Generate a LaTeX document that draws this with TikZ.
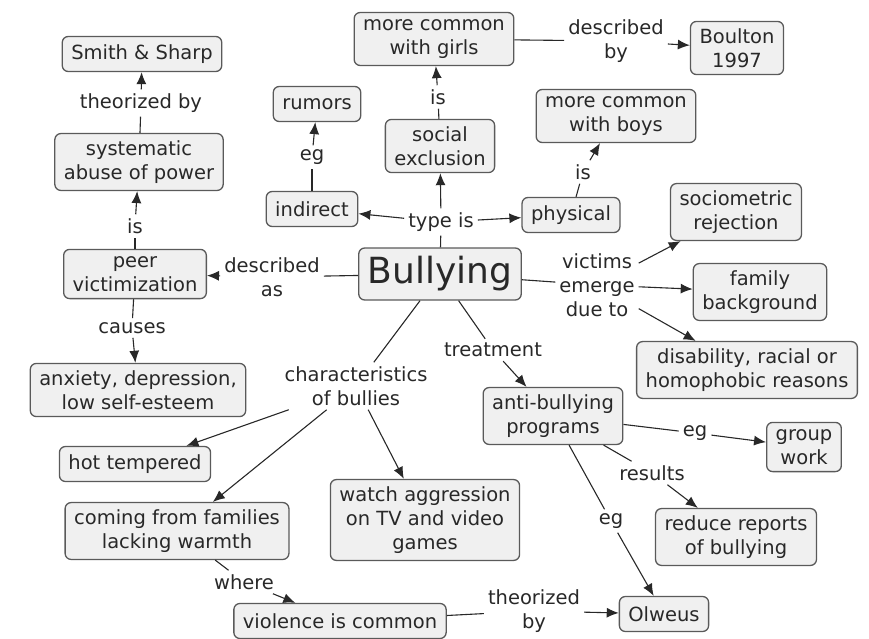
\documentclass[tikz,border=0pt]{standalone}
\usepackage{fontspec}
\setmainfont{DejaVu Sans}
\usetikzlibrary{arrows.meta}
\definecolor{boxfill}{RGB}{240,240,240}
\definecolor{boxline}{RGB}{90,90,90}
\definecolor{ink}{RGB}{40,40,40}
\tikzset{
concept/.style={draw=boxline,fill=boxfill,rounded corners=6pt,line width=1.3pt,align=center,inner xsep=9pt,inner ysep=7pt,minimum height=35pt,text=ink},
linkl/.style={align=center,inner sep=4pt,text=ink},
conn/.style={draw=ink,line width=1.1pt},
arr/.style={conn,-{Latex[length=12pt,width=10pt]}}
}
\begin{document}
\begin{tikzpicture}[x=1pt,y=-1pt,font=\fontsize{19.5}{24}\selectfont]
\useasboundingbox (0,0) rectangle (869,639);
% concepts
\node[concept] (sharp) at (142,54) {Smith \& Sharp};
\node[concept] (abuse) at (139,162) {systematic\\abuse of power};
\node[concept] (rumors) at (317,104) {rumors};
\node[concept] (indirect) at (312,209) {indirect};
\node[concept] (girls) at (434,39) {more common\\with girls};
\node[concept] (social) at (440,146) {social\\exclusion};
\node[concept] (boulton) at (737,48) {Boulton\\1997};
\node[concept] (boys) at (616,116) {more common\\with boys};
\node[concept] (physical) at (571,215) {physical};
\node[concept] (socio) at (736,212) {sociometric\\rejection};
\node[concept,font=\fontsize{36}{40}\selectfont,minimum height=52pt] (bully) at (440,274) {Bullying};
\node[concept] (peer) at (135,274) {peer\\victimization};
\node[concept] (family) at (760,292) {family\\background};
\node[concept] (anxiety) at (138,390) {anxiety, depression,\\low self-esteem};
\node[concept] (disab) at (747,370) {disability, racial or\\homophobic reasons};
\node[concept] (anti) at (553,416) {anti-bullying\\programs};
\node[concept] (group) at (804,447) {group\\work};
\node[concept] (hot) at (135,464) {hot tempered};
\node[concept] (watch) at (425,520) {watch aggression\\on TV and video\\games};
\node[concept] (coming) at (177,531) {coming from families\\lacking warmth};
\node[concept] (reduce) at (736,537) {reduce reports\\of bullying};
\node[concept] (violence) at (340,621) {violence is common};
\node[concept] (olweus) at (664,614) {Olweus};
% link labels
\node[linkl] (lthe) at (141,103) {theorized by};
\node[linkl] (lisa) at (135,226) {is};
\node[linkl] (legr) at (312,157) {eg};
\node[linkl] (liss) at (438,97) {is};
\node[linkl] (ldby) at (616,41) {described\\by};
\node[linkl] (lisp) at (583,172) {is};
\node[linkl] (ltype) at (441,222) {type is};
\node[linkl] (ldas) at (272,277) {described\\as};
\node[linkl] (lvict) at (597,285) {victims\\emerge\\due to};
\node[linkl] (lcaus) at (132,328) {causes};
\node[linkl] (ltreat) at (493,350) {treatment};
\node[linkl] (lchar) at (356,386) {characteristics\\of bullies};
\node[linkl] (legg) at (695,433) {eg};
\node[linkl] (lres) at (652,473) {results};
\node[linkl] (lego) at (611,521) {eg};
\node[linkl] (lwhere) at (244,582) {where};
\node[linkl] (ltby) at (534,611) {theorized\\by};
% connectors
\draw[conn] (abuse)--(lthe); \draw[arr] (lthe)--(sharp);
\draw[conn] (peer)--(lisa); \draw[arr] (lisa)--(abuse);
\draw[conn] (indirect)--(legr); \draw[arr] (legr)--(rumors);
\draw[conn] (bully)--(ltype); \draw[arr] (ltype)--(indirect); \draw[arr] (ltype)--(social); \draw[arr] (ltype)--(physical);
\draw[conn] (social)--(liss); \draw[arr] (liss)--(girls);
\draw[conn] (girls)--(ldby); \draw[arr] (ldby)--(boulton);
\draw[conn] (physical)--(lisp); \draw[arr] (lisp)--(boys);
\draw[conn] (bully)--(ldas); \draw[arr] (ldas)--(peer);
\draw[conn] (bully)--(lvict); \draw[arr] (lvict)--(socio); \draw[arr] (lvict)--(family); \draw[arr] (lvict)--(disab);
\draw[conn] (peer)--(lcaus); \draw[arr] (lcaus)--(anxiety);
\draw[conn] (bully)--(ltreat); \draw[arr] (ltreat)--(anti);
\draw[conn] (bully)--(lchar); \draw[arr] (lchar)--(hot); \draw[arr] (lchar)--(coming); \draw[arr] (lchar)--(watch);
\draw[conn] (anti)--(legg); \draw[arr] (legg)--(group);
\draw[conn] (anti)--(lres); \draw[arr] (lres)--(reduce);
\draw[conn] (anti)--(lego); \draw[arr] (lego)--(olweus);
\draw[conn] (coming)--(lwhere); \draw[arr] (lwhere)--(violence);
\draw[conn] (violence)--(ltby); \draw[arr] (ltby)--(olweus);
\end{tikzpicture}
\end{document}
